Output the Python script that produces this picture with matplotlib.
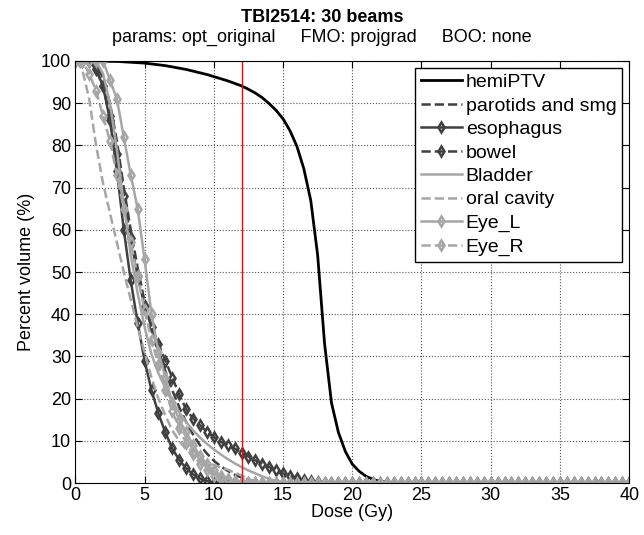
import numpy as np
import matplotlib
matplotlib.use("Agg")
import matplotlib.pyplot as plt

plt.rcParams['font.family'] = ['Liberation Sans', 'DejaVu Sans']

# dose grid (Gy), 0.5 Gy steps
dose = np.arange(0, 40.5, 0.5)

# percent volume, values; trailing zeros to 40 Gy
hemiPTV = [100, 100, 100, 100, 100, 99.9, 99.9, 99.8, 99.7, 99.6, 99.5, 99.3, 99.1, 98.9, 98.6,
           98.3, 98.0, 97.6, 97.2, 96.8, 96.3, 95.8, 95.3, 94.7, 94.1, 93.3, 92.4, 91.3, 89.9,
           88.3, 86.3, 83.5, 79.8, 74.5, 67, 54, 33, 19, 12, 7.5, 4.5, 2.8, 1.6, 0.9, 0.4, 0.2, 0.05]
parotids = [100, 100, 100, 99, 96, 90, 81, 70, 60, 51, 43, 37, 31.5, 26.5, 22, 18, 14.5, 11.5,
            9, 7, 5.3, 4, 2.9, 2, 1.3, 0.8, 0.4, 0.1]
esophagus = [100, 100, 100, 98, 94, 86, 74, 60, 48, 38, 29, 22, 16.5, 12, 8.2, 5.5, 3.5, 2.1,
             1.1, 0.5, 0.1]
bowel = [100, 100, 100, 98, 94, 87, 78, 68, 58, 49, 42, 37, 33, 29, 25, 21, 17.5, 15.3, 13.7,
         12.2, 10.9, 9.8, 9.0, 8.2, 7.2, 6.3, 5.4, 4.6, 3.8, 3.0, 2.3, 1.7, 1.2, 0.8, 0.5, 0.3, 0.1]
bladder = [100, 100, 100, 100, 97, 90, 79, 66, 54, 45, 37, 30.5, 26, 22.5, 19.3, 16.8, 14.5,
           12.5, 10.8, 9.3, 8, 6.8, 5.7, 4.7, 3.8, 3.0, 2.3, 1.6, 1.0, 0.5, 0.2]
oral_cavity = [100, 98, 91, 80, 71, 64, 57, 50, 43.5, 37, 31, 25, 20, 16, 12.5, 10, 8, 6.5,
               5.4, 4.8, 4.3, 3.7, 3.2, 2.5, 1.8, 1.0, 0.4]
eye_L = [100, 100, 100, 100, 100, 95.5, 91, 82, 73, 65, 53, 40, 31, 25, 19, 15, 12, 9, 6.5,
         4.5, 3, 1.8, 1, 0.5, 0.2]
eye_R = [100, 100, 97, 93, 87, 81, 73, 65, 57, 49, 41, 34, 28, 22, 17, 13, 9.5, 6.8, 4.6, 3,
         1.8, 1, 0.5, 0.2]

structures = ['hemiPTV', 'parotids and smg', 'esophagus', 'bowel', 'Bladder',
              'oral cavity', 'Eye_L', 'Eye_R']
curves = [hemiPTV, parotids, esophagus, bowel, bladder, oral_cavity, eye_L, eye_R]

dark = '#404040'
light = '#a6a6a6'
styles = [
    dict(color='black', ls='-', lw=2.0),
    dict(color=dark, ls='--', lw=1.8),
    dict(color=dark, ls='-', lw=1.8, marker='d', ms=5, mfc='none', mew=1.8),
    dict(color=dark, ls='--', lw=1.8, marker='d', ms=5, mfc='none', mew=1.8),
    dict(color=light, ls='-', lw=1.8),
    dict(color=light, ls='--', lw=1.8),
    dict(color=light, ls='-', lw=1.8, marker='d', ms=5, mfc='none', mew=1.8),
    dict(color=light, ls='--', lw=1.8, marker='d', ms=5, mfc='none', mew=1.8),
]

fs = 13

fig = plt.figure(figsize=(6.44, 5.35), dpi=100)
ax = fig.add_axes([0.117, 0.097, 0.86, 0.789])

for name, vals, st in zip(structures, curves, styles):
    y = np.zeros(len(dose))
    y[:len(vals)] = vals
    ax.plot(dose, y, label=name, **st)

ax.axvline(12, color='red', lw=1.0)

ax.set_xlim(0, 40)
ax.set_ylim(0, 100)
ax.set_xticks(np.arange(0, 41, 5))
ax.set_yticks(np.arange(0, 101, 10))
ax.tick_params(direction='in', top=True, right=True, labelsize=fs, length=5, pad=3)
ax.grid(True, linestyle=':', color='#555555', lw=0.8)
ax.set_xlabel('Dose (Gy)', fontsize=fs, labelpad=0)
ax.set_ylabel('Percent volume (%)', fontsize=fs, labelpad=4)

fig.text(0.5, 0.968, 'TBI2514: 30 beams', ha='center', va='center',
         fontsize=fs, fontweight='bold')
fig.text(0.5, 0.931, 'params: opt_original     FMO: projgrad     BOO: none',
         ha='center', va='center', fontsize=fs)

leg = ax.legend(loc='upper right', fontsize=14, handlelength=2.1, handletextpad=0.2,
                borderpad=0.3, labelspacing=0.3, fancybox=False, framealpha=1,
                borderaxespad=0.35)
leg.get_frame().set_edgecolor('black')
leg.get_frame().set_linewidth(1.0)

fig.savefig('out.png', dpi=100)
